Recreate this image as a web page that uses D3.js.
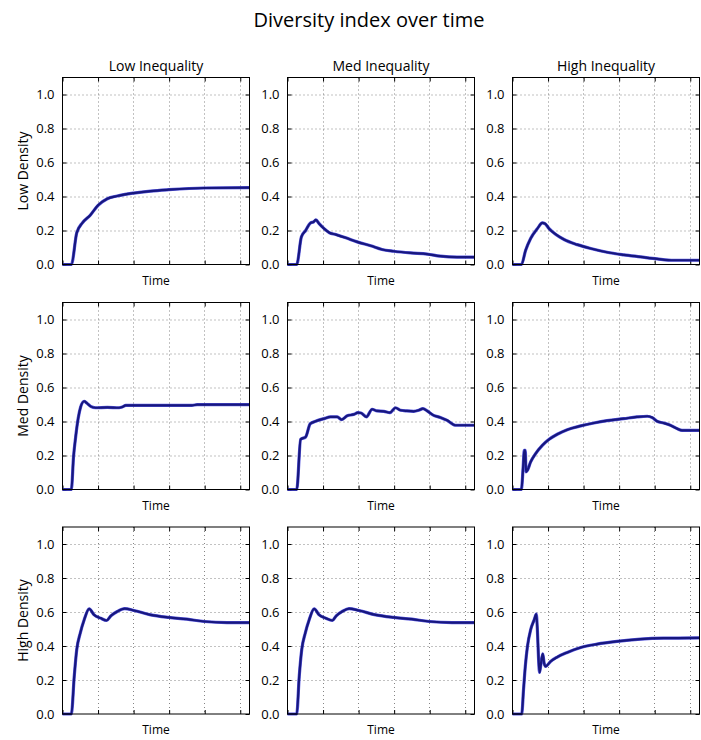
<!DOCTYPE html>
<html>
<head>
<meta charset="utf-8">
<script src="https://cdn.jsdelivr.net/npm/d3@7/dist/d3.min.js"></script>
<style>
  body { margin: 0; background: #fff; }
  svg { display: block; }
  text { font-family: "Open Sans", "Lato", sans-serif; fill: #000; }
</style>
</head>
<body>
<svg id="chart" width="701" height="740"></svg>
<script>
// ---------- DATA ----------
const chartTitle = "Diversity index over time";
const columnTitles = ["Low Inequality", "Med Inequality", "High Inequality"];
const rowTitles = ["Low Density", "Med Density", "High Density"];
const xLabel = "Time";
const yTicks = [0.0, 0.2, 0.4, 0.6, 0.8, 1.0];
const xTicks = [0, 1, 2, 3, 4, 5];
const xMax = 5.26;
const yMax = 1.1;

// each series: [time, diversity]
const lowDensLowIneq = [[0,0],[0.25,0],[0.40,0.186],[0.56,0.245],[0.78,0.29],[1.0,0.348],[1.26,0.387],[1.54,0.403],[2.0,0.42],[2.48,0.432],[2.99,0.44],[3.99,0.45],[5.26,0.452]];
const lowDensMedIneq = [[0,0],[0.26,0],[0.39,0.162],[0.51,0.20],[0.65,0.245],[0.73,0.25],[0.80,0.262],[0.89,0.24],[1.03,0.211],[1.17,0.188],[1.36,0.176],[1.64,0.157],[1.96,0.133],[2.34,0.110],[2.66,0.088],[2.99,0.078],[3.46,0.068],[3.93,0.061],[4.30,0.049],[4.77,0.043],[5.26,0.043]];
const lowDensHighIneq = [[0,0],[0.25,0],[0.37,0.084],[0.51,0.153],[0.70,0.211],[0.84,0.245],[0.91,0.241],[1.03,0.211],[1.21,0.178],[1.45,0.147],[1.82,0.117],[2.20,0.094],[2.66,0.072],[3.13,0.057],[3.60,0.045],[4.07,0.033],[4.53,0.025],[5.26,0.025]];
const medDensLowIneq = [[0,0],[0.25,0],[0.31,0.192],[0.37,0.309],[0.44,0.417],[0.51,0.485],[0.61,0.519],[0.68,0.509],[0.79,0.489],[0.93,0.481],[1.26,0.483],[1.59,0.481],[1.68,0.485],[1.78,0.495],[2.48,0.495],[3.64,0.495],[3.79,0.499],[5.26,0.499]];
const medDensMedIneq = [[0,0],[0.26,0],[0.37,0.295],[0.51,0.309],[0.64,0.387],[0.79,0.401],[1.03,0.417],[1.21,0.427],[1.40,0.427],[1.52,0.411],[1.68,0.434],[1.87,0.442],[1.98,0.452],[2.07,0.450],[2.22,0.427],[2.38,0.472],[2.52,0.462],[2.71,0.460],[2.88,0.452],[3.04,0.481],[3.18,0.466],[3.36,0.462],[3.55,0.460],[3.69,0.466],[3.81,0.476],[3.93,0.462],[4.11,0.436],[4.30,0.424],[4.49,0.407],[4.72,0.378],[5.26,0.378]];
const medDensHighIneq = [[0,0],[0.25,0],[0.30,0.133],[0.33,0.231],[0.36,0.231],[0.38,0.104],[0.42,0.113],[0.51,0.162],[0.65,0.211],[0.84,0.260],[1.03,0.295],[1.26,0.325],[1.54,0.352],[1.92,0.374],[2.29,0.391],[2.66,0.405],[3.13,0.417],[3.50,0.427],[3.79,0.431],[3.93,0.423],[4.07,0.401],[4.25,0.391],[4.44,0.378],[4.63,0.358],[4.77,0.348],[5.26,0.348]];
const highDensLowIneq = [[0,0],[0.25,0],[0.33,0.221],[0.40,0.378],[0.50,0.476],[0.61,0.554],[0.75,0.618],[0.89,0.583],[1.07,0.564],[1.24,0.550],[1.36,0.577],[1.54,0.603],[1.75,0.620],[2.01,0.609],[2.48,0.583],[2.99,0.568],[3.50,0.558],[3.99,0.544],[4.63,0.538],[5.26,0.538]];
const highDensMedIneq = [[0,0],[0.26,0],[0.33,0.221],[0.40,0.378],[0.50,0.476],[0.61,0.554],[0.75,0.618],[0.89,0.583],[1.07,0.564],[1.26,0.550],[1.37,0.577],[1.54,0.603],[1.73,0.620],[2.01,0.609],[2.48,0.583],[2.99,0.568],[3.50,0.558],[3.99,0.544],[4.63,0.538],[5.26,0.538]];
const highDensHighIneq = [[0,0],[0.26,0],[0.31,0.143],[0.36,0.280],[0.42,0.397],[0.51,0.495],[0.61,0.554],[0.67,0.587],[0.70,0.495],[0.73,0.339],[0.76,0.245],[0.79,0.280],[0.85,0.354],[0.89,0.299],[0.93,0.280],[1.07,0.309],[1.26,0.335],[1.54,0.362],[1.92,0.391],[2.38,0.411],[2.94,0.427],[3.60,0.440],[4.25,0.446],[5.26,0.448]];

const grid = [
  [lowDensLowIneq, lowDensMedIneq, lowDensHighIneq],
  [medDensLowIneq, medDensMedIneq, medDensHighIneq],
  [highDensLowIneq, highDensMedIneq, highDensHighIneq]
];

// ---------- LAYOUT ----------
const svg = d3.select("#chart");
const panelW = 187, panelH = 187;
const lefts = [62, 287, 512];
const tops = [77.5, 302.5, 527];

svg.append("text")
  .attr("x", 369).attr("y", 27)
  .attr("text-anchor", "middle")
  .attr("font-size", 20)
  .text(chartTitle);

const x = d3.scaleLinear().domain([0, xMax]).range([0, panelW]);
const y = d3.scaleLinear().domain([0, yMax]).range([panelH, 0]);
const line = d3.line().x(d => x(d[0])).y(d => y(d[1])).curve(d3.curveMonotoneX);

grid.forEach((row, r) => {
  row.forEach((series, c) => {
    const g = svg.append("g").attr("transform", `translate(${lefts[c] + 0.5},${tops[r]})`);

    // gridlines
    g.append("g").selectAll("line.vg").data(xTicks.filter(t => t > 0)).join("line")
      .attr("x1", d => Math.round(x(d))).attr("x2", d => Math.round(x(d)))
      .attr("y1", 0).attr("y2", panelH)
      .attr("stroke", "#333").attr("stroke-width", 0.6).attr("stroke-dasharray", "1,3");
    g.append("g").selectAll("line.hg").data(yTicks.filter(t => t > 0)).join("line")
      .attr("x1", 0).attr("x2", panelW)
      .attr("y1", d => Math.round(y(d)) + 0.5).attr("y2", d => Math.round(y(d)) + 0.5)
      .attr("stroke", "#333").attr("stroke-width", 0.6).attr("stroke-dasharray", "1,3");

    // axes with inside ticks, labels on left only
    const yAxis = d3.axisLeft(y).tickValues(yTicks).tickFormat(d3.format(".1f")).tickSizeInner(-4).tickSizeOuter(0).tickPadding(8);
    const ya = g.append("g").call(yAxis);
    ya.select(".domain").remove();
    ya.selectAll("text").attr("font-size", 13).style("font-family", '"Open Sans", sans-serif');
    const yAxisR = d3.axisRight(y).tickValues(yTicks).tickFormat("").tickSizeInner(-4).tickSizeOuter(0);
    const yr = g.append("g").attr("transform", `translate(${panelW},0)`).call(yAxisR);
    yr.select(".domain").remove();
    const xAxis = d3.axisBottom(x).tickValues(xTicks).tickFormat("").tickSizeInner(-4).tickSizeOuter(0);
    const xa = g.append("g").attr("transform", `translate(0,${panelH})`).call(xAxis);
    xa.select(".domain").remove();
    const xAxisT = d3.axisTop(x).tickValues(xTicks).tickFormat("").tickSizeInner(-4).tickSizeOuter(0);
    const xt = g.append("g").call(xAxisT);
    xt.select(".domain").remove();
    g.selectAll(".tick line").attr("stroke", "#000").attr("stroke-width", 1);

    // data line
    g.append("path").datum(series).attr("d", line)
      .attr("fill", "none").attr("stroke", "#2f2fd6").attr("stroke-width", 3.2)
      .attr("stroke-linejoin", "round").attr("stroke-opacity", 0.8);
    g.append("path").datum(series).attr("d", line)
      .attr("fill", "none").attr("stroke", "#17177e").attr("stroke-width", 2.2)
      .attr("stroke-linejoin", "round");

    // frame
    g.append("rect").attr("x", 0).attr("y", 0).attr("width", panelW).attr("height", panelH)
      .attr("fill", "none").attr("stroke", "#000").attr("stroke-width", 1);

    // x label
    g.append("text").attr("x", panelW / 2).attr("y", panelH + 20)
      .attr("text-anchor", "middle").attr("font-size", 12).text(xLabel);

    if (r === 0) {
      g.append("text").attr("x", panelW / 2).attr("y", -7)
        .attr("text-anchor", "middle").attr("font-size", 14).text(columnTitles[c]);
    }
    if (c === 0) {
      g.append("text")
        .attr("transform", `translate(-35,${panelH / 2}) rotate(-90)`)
        .attr("text-anchor", "middle").attr("font-size", 14).text(rowTitles[r]);
    }
  });
});
</script>
</body>
</html>
